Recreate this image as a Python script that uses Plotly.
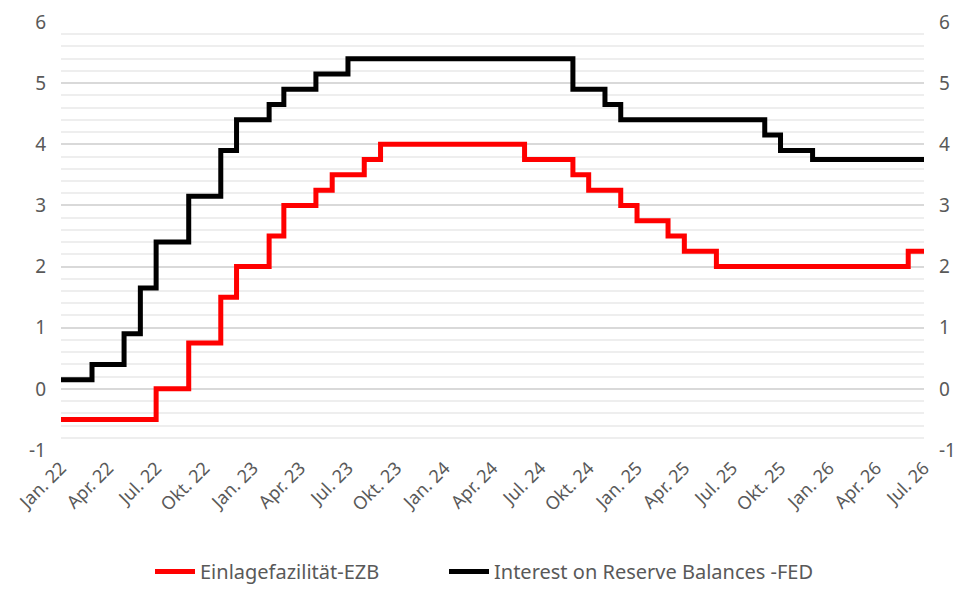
import plotly.graph_objects as go

# ECB deposit facility rate (step changes)
ezb_dates = ["2022-01-01", "2022-07-01", "2022-09-01", "2022-11-01", "2022-12-01",
             "2023-02-01", "2023-03-01", "2023-05-01", "2023-06-01", "2023-08-01",
             "2023-09-01", "2024-06-01", "2024-09-01", "2024-10-01", "2024-12-01",
             "2025-01-01", "2025-03-01", "2025-04-01", "2025-06-01", "2026-06-01",
             "2026-07-01"]
ezb_values = [-0.5, 0.0, 0.75, 1.5, 2.0,
              2.5, 3.0, 3.25, 3.5, 3.75,
              4.0, 3.75, 3.5, 3.25, 3.0,
              2.75, 2.5, 2.25, 2.0, 2.25,
              2.25]

# Fed interest on reserve balances (step changes)
fed_dates = ["2022-01-01", "2022-03-01", "2022-05-01", "2022-06-01", "2022-07-01",
             "2022-09-01", "2022-11-01", "2022-12-01", "2023-02-01", "2023-03-01",
             "2023-05-01", "2023-07-01", "2024-09-01", "2024-11-01", "2024-12-01",
             "2025-09-01", "2025-10-01", "2025-12-01", "2026-07-01"]
fed_values = [0.15, 0.40, 0.90, 1.65, 2.40,
              3.15, 3.90, 4.40, 4.65, 4.90,
              5.15, 5.40, 4.90, 4.65, 4.40,
              4.15, 3.90, 3.75, 3.75]

tick_dates = ["2022-01-01", "2022-04-01", "2022-07-01", "2022-10-01",
              "2023-01-01", "2023-04-01", "2023-07-01", "2023-10-01",
              "2024-01-01", "2024-04-01", "2024-07-01", "2024-10-01",
              "2025-01-01", "2025-04-01", "2025-07-01", "2025-10-01",
              "2026-01-01", "2026-04-01", "2026-07-01"]
tick_labels = ["Jan. 22", "Apr. 22", "Jul. 22", "Okt. 22",
               "Jan. 23", "Apr. 23", "Jul. 23", "Okt. 23",
               "Jan. 24", "Apr. 24", "Jul. 24", "Okt. 24",
               "Jan. 25", "Apr. 25", "Jul. 25", "Okt. 25",
               "Jan. 26", "Apr. 26", "Jul. 26"]

y_ticks = [-1, 0, 1, 2, 3, 4, 5, 6]

FONT = "Noto Sans"
GREY = "#595959"

fig = go.Figure()
fig.add_trace(go.Scatter(
    x=ezb_dates, y=ezb_values, mode="lines", line_shape="hv",
    name="Einlagefazilität-EZB", legend="legend",
    line=dict(color="#FF0000", width=5),
))
fig.add_trace(go.Scatter(
    x=fed_dates, y=fed_values, mode="lines", line_shape="hv",
    name="Interest on Reserve Balances -FED", legend="legend2",
    line=dict(color="#000000", width=5),
))
# invisible trace to show secondary (right) axis
fig.add_trace(go.Scatter(
    x=[fed_dates[0]], y=[fed_values[0]], yaxis="y2", mode="lines",
    showlegend=False, hoverinfo="skip", line=dict(color="rgba(0,0,0,0)"),
))

yaxis_common = dict(
    range=[-1, 6], tickvals=y_ticks, ticktext=[str(v) for v in y_ticks],
    tickfont=dict(family=FONT, size=19, color=GREY),
    zeroline=False, showline=False, ticks="", automargin=False,
)

legend_common = dict(
    orientation="h", xref="container", xanchor="left",
    yref="container", y=-0.021, yanchor="bottom",
    font=dict(family=FONT, size=20, color=GREY),
    itemwidth=40, bgcolor="rgba(0,0,0,0)",
)

fig.update_layout(
    width=955, height=591,
    margin=dict(l=61, r=31, t=22, b=141),
    paper_bgcolor="white", plot_bgcolor="white",
    font=dict(family=FONT, color=GREY),
    showlegend=True,
    legend=dict(**legend_common, x=150 / 955),
    legend2=dict(**legend_common, x=444 / 955),
    xaxis=dict(
        type="date", range=["2022-01-01", "2026-07-01"],
        tickvals=tick_dates, ticktext=tick_labels, tickangle=-45,
        tickfont=dict(family=FONT, size=18, color=GREY),
        showgrid=False, zeroline=False, showline=False, ticks="",
        automargin=False, ticklabelstandoff=3,
    ),
    yaxis=dict(
        **yaxis_common,
        showgrid=True, gridcolor="#D9D9D9", gridwidth=1.5,
        minor=dict(dtick=0.2, tick0=0, showgrid=True, gridcolor="#EEEEEE", gridwidth=2),
        ticklabelstandoff=14,
    ),
    yaxis2=dict(
        **yaxis_common,
        overlaying="y", side="right", showgrid=False,
        ticklabelstandoff=14,
    ),
    hovermode=False,
)

fig.write_html(
    "out.html",
    config={"displayModeBar": False},
    post_script="document.body.style.margin='0';document.body.style.overflow='hidden';",
)
